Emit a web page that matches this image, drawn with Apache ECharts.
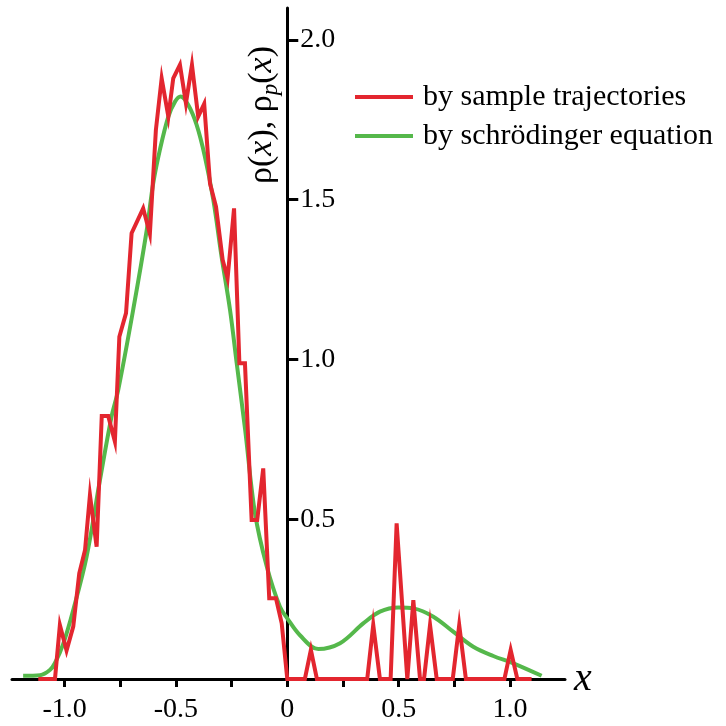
<!DOCTYPE html>
<html>
<head>
<meta charset="utf-8">
<script src="https://cdn.jsdelivr.net/npm/echarts@6/dist/echarts.min.js"></script>
<style>
  html, body { margin: 0; padding: 0; background: #fff; }
  #chart { width: 726px; height: 726px; }
</style>
</head>
<body>
<div id="chart"></div>
<script>
// ---- data ----
const sampleX = [-1.118,-1.043,-1.021,-0.991,-0.961,-0.934,-0.908,-0.886,-0.856,-0.833,-0.804,-0.774,-0.754,-0.724,-0.699,-0.647,-0.617,-0.590,-0.564,-0.534,-0.512,-0.482,-0.455,-0.428,-0.400,-0.373,-0.347,-0.320,-0.290,-0.268,-0.239,-0.215,-0.190,-0.160,-0.135,-0.108,-0.081,-0.051,-0.025,0,
  0.079,0.106,0.133,0.359,0.386,0.416,0.464,0.491,0.539,0.566,0.596,0.614,0.641,0.671,0.743,0.772,0.802,0.975,1.003,1.033,1.097];
const sampleY = [0,0,0.169,0.089,0.164,0.331,0.404,0.576,0.414,0.823,0.823,0.743,1.071,1.145,1.395,1.473,1.393,1.718,1.880,1.760,1.880,1.922,1.802,1.922,1.760,1.800,1.551,1.478,1.311,1.254,1.473,0.988,0.988,0.498,0.498,0.659,0.253,0.253,0.174,0,
  0,0.091,0,0,0.169,0,0,0.487,0,0.247,0,0,0.169,0,0,0.169,0,0,0.091,0,0];

const schrodX = [-1.186,-1.11,-1.066,-1.043,-1.006,-0.961,-0.901,-0.841,-0.789,-0.759,-0.692,-0.631,-0.602,-0.572,-0.534,-0.504,-0.479,-0.445,-0.407,-0.370,-0.332,-0.295,-0.257,-0.227,-0.189,-0.145,-0.092,-0.033,0,0.057,0.139,0.237,0.341,0.416,0.499,0.567,0.656,0.745,0.835,0.925,1.015,1.142];
const schrodY = [0.01,0.012,0.028,0.05,0.11,0.216,0.383,0.623,0.821,0.905,1.155,1.405,1.551,1.656,1.760,1.807,1.823,1.797,1.734,1.635,1.499,1.322,1.155,0.988,0.779,0.519,0.352,0.226,0.19,0.137,0.094,0.112,0.174,0.211,0.224,0.221,0.195,0.148,0.101,0.072,0.049,0.01];

const xTickValues = [-1, -0.75, -0.5, -0.25, 0, 0.25, 0.5, 0.75, 1];
const xLabelValues = [-1, -0.5, 0, 0.5, 1];
const yTickValues = [0.5, 1, 1.5, 2];
const seriesNames = ['by sample trajectories', 'by schrödinger equation'];

const zip = (xs, ys) => xs.map((x, i) => [x, ys[i]]);
const SERIF = '"Liberation Serif", "Times New Roman", serif';

const X_MIN = -1.236, X_MAX = 1.247;
const GRID_LEFT = 12, GRID_RIGHT = 161;
const plotW = 726 - GRID_LEFT - GRID_RIGHT;
const zeroOffset = (0 - X_MIN) / (X_MAX - X_MIN) * plotW;

const chart = echarts.init(document.getElementById('chart'), null, { renderer: 'canvas' });
chart.setOption({
  animation: false,
  backgroundColor: '#ffffff',
  grid: { left: GRID_LEFT, right: GRID_RIGHT, top: 8, bottom: 47, containLabel: false },
  xAxis: {
    type: 'value',
    min: X_MIN, max: X_MAX,
    name: 'x',
    nameLocation: 'end',
    nameGap: 9,
    nameTextStyle: { fontFamily: SERIF, fontStyle: 'italic', fontSize: 40, color: '#000', verticalAlign: 'middle', padding: [0,0,6,0] },
    splitLine: { show: false },
    axisLine: { show: true, lineStyle: { color: '#000', width: 3 } },
    axisTick: { show: true, customValues: xTickValues, length: 8, inside: false, lineStyle: { color: '#000', width: 3 } },
    axisLabel: {
      show: true, customValues: xLabelValues, margin: 17,
      fontFamily: SERIF, fontSize: 28, color: '#000',
      formatter: v => (v === 0 ? '0' : v.toFixed(1))
    }
  },
  yAxis: {
    type: 'value',
    position: 'left',
    offset: -zeroOffset,
    min: 0, max: 2.1,
    splitLine: { show: false },
    axisLine: { show: true, onZero: false, lineStyle: { color: '#000', width: 3 } },
    axisTick: { show: true, customValues: yTickValues, length: 11, inside: true, lineStyle: { color: '#000', width: 3 } },
    axisLabel: {
      show: true, customValues: yTickValues, inside: true, margin: 13,
      fontFamily: SERIF, fontSize: 28, color: '#000',
      formatter: v => v.toFixed(1)
    }
  },
  legend: {
    orient: 'vertical',
    left: 355, top: 82,
    padding: 0,
    itemGap: 9,
    itemWidth: 58, itemHeight: 4,
    icon: 'rect',
    data: seriesNames,
    textStyle: { fontFamily: SERIF, fontSize: 30, color: '#000', lineHeight: 30, padding: [0,0,0,5] }
  },
  graphic: [{
    type: 'text',
    x: 262, y: 115,
    rotation: Math.PI / 2,
    style: {
      text: '{a|ρ(}{i|x}{a|), ρ}{s|p}{a|(}{i|x}{a|)}',
      align: 'center', verticalAlign: 'middle',
      fill: '#000',
      rich: {
        a: { fontFamily: SERIF, fontSize: 34, lineHeight: 36, fill: '#000' },
        i: { fontFamily: SERIF, fontSize: 34, fontStyle: 'italic', lineHeight: 36, fill: '#000' },
        s: { fontFamily: SERIF, fontSize: 23, fontStyle: 'italic', lineHeight: 16, padding: [18, 0, 0, 0], fill: '#000' }
      }
    }
  }],
  series: [
    {
      name: seriesNames[1],
      type: 'line',
      data: zip(schrodX, schrodY),
      smooth: 0.35,
      symbol: 'none',
      color: '#55b84b',
      lineStyle: { color: '#55b84b', width: 4 },
      z: 2
    },
    {
      name: seriesNames[0],
      type: 'line',
      data: zip(sampleX, sampleY),
      smooth: false,
      symbol: 'none',
      color: '#e3262f',
      lineStyle: { color: '#e3262f', width: 4, join: 'miter' },
      z: 3
    }
  ]
});
</script>
</body>
</html>
